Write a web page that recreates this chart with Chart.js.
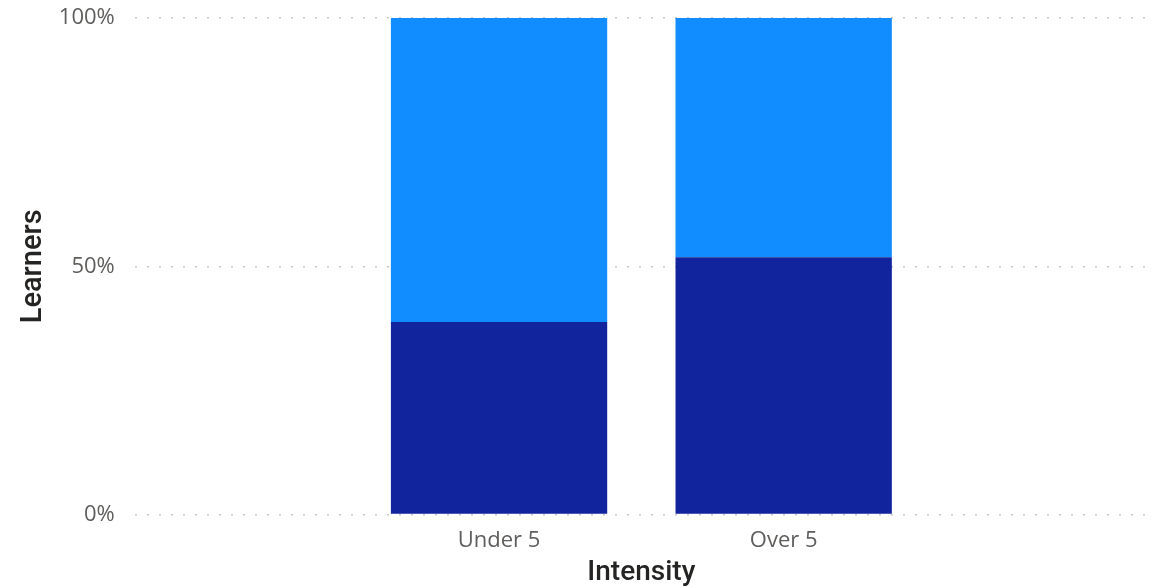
<!DOCTYPE html>
<html>
<head>
<meta charset="utf-8">
<script src="https://cdn.jsdelivr.net/npm/chart.js@4"></script>
<style>
  html, body { margin: 0; padding: 0; background: #fff; }
  #wrap { width: 1152px; height: 588px; }
</style>
</head>
<body>
<div id="wrap"><canvas id="intensityChart"></canvas></div>
<script>
const categories = ["Under 5", "Over 5"]
const lowerShare = [38.8, 51.8]
const upperShare = [61.2, 48.2]
const yTicks = [0, 50, 100]

document.addEventListener("DOMContentLoaded", () => {
const toPoints = arr => arr.map((v, i) => ({ x: i, y: v }))

const data = {
    datasets: [{
        label: "Lower",
        data: toPoints(lowerShare),
        backgroundColor: '#12239E'
    }, {
        label: "Upper",
        data: toPoints(upperShare),
        backgroundColor: '#118DFF'
    }]
}

const config = {
    type: "bar",
    data: data,
    options: {
        responsive: true,
        maintainAspectRatio: false,
        animation: false,
        layout: { padding: { top: 18, right: 4, left: 16, bottom: 0 } },
        datasets: { bar: { categoryPercentage: 1, barPercentage: 0.76 } },
        plugins: { legend: { display: false }, tooltip: { enabled: false } },
        scales: {
            x: {
                type: "linear",
                stacked: true,
                offset: false,
                min: -1.28,
                max: 2.28,
                afterBuildTicks: scale => { scale.ticks = categories.map((c, i) => ({ value: i })) },
                grid: { display: false },
                border: { display: false },
                ticks: {
                    callback: v => categories[v],
                    color: '#605E5C',
                    padding: 5,
                    font: { family: "'Open Sans', 'Noto Sans', sans-serif", size: 22 }
                },
                title: {
                    display: true,
                    text: "Intensity",
                    color: '#252423',
                    padding: { top: 0, bottom: 1 },
                    font: { family: "Roboto, sans-serif", size: 28, weight: 500, lineHeight: 1 }
                }
            },
            y: {
                stacked: true,
                min: 0,
                max: 100,
                afterBuildTicks: scale => { scale.ticks = yTicks.map(v => ({ value: v })) },
                afterFit: scale => { scale.paddingTop = 0; scale.paddingBottom = 0 },
                border: { display: false, dash: [2, 10] },
                grid: {
                    color: '#c8c8c8',
                    lineWidth: 1.5,
                    drawTicks: false
                },
                ticks: {
                    callback: v => v + "%",
                    color: '#605E5C',
                    padding: 20,
                    font: { family: "'Open Sans', 'Noto Sans', sans-serif", size: 22 }
                },
                title: {
                    display: true,
                    text: "Learners",
                    color: '#252423',
                    padding: { top: 0, bottom: -12 },
                    font: { family: "Roboto, sans-serif", size: 29, weight: 500 }
                }
            }
        }
    }
}

let ctx = document.getElementById("intensityChart")
ctx.getContext("2d")
new Chart(ctx, config)
})
</script>
</body>
</html>
